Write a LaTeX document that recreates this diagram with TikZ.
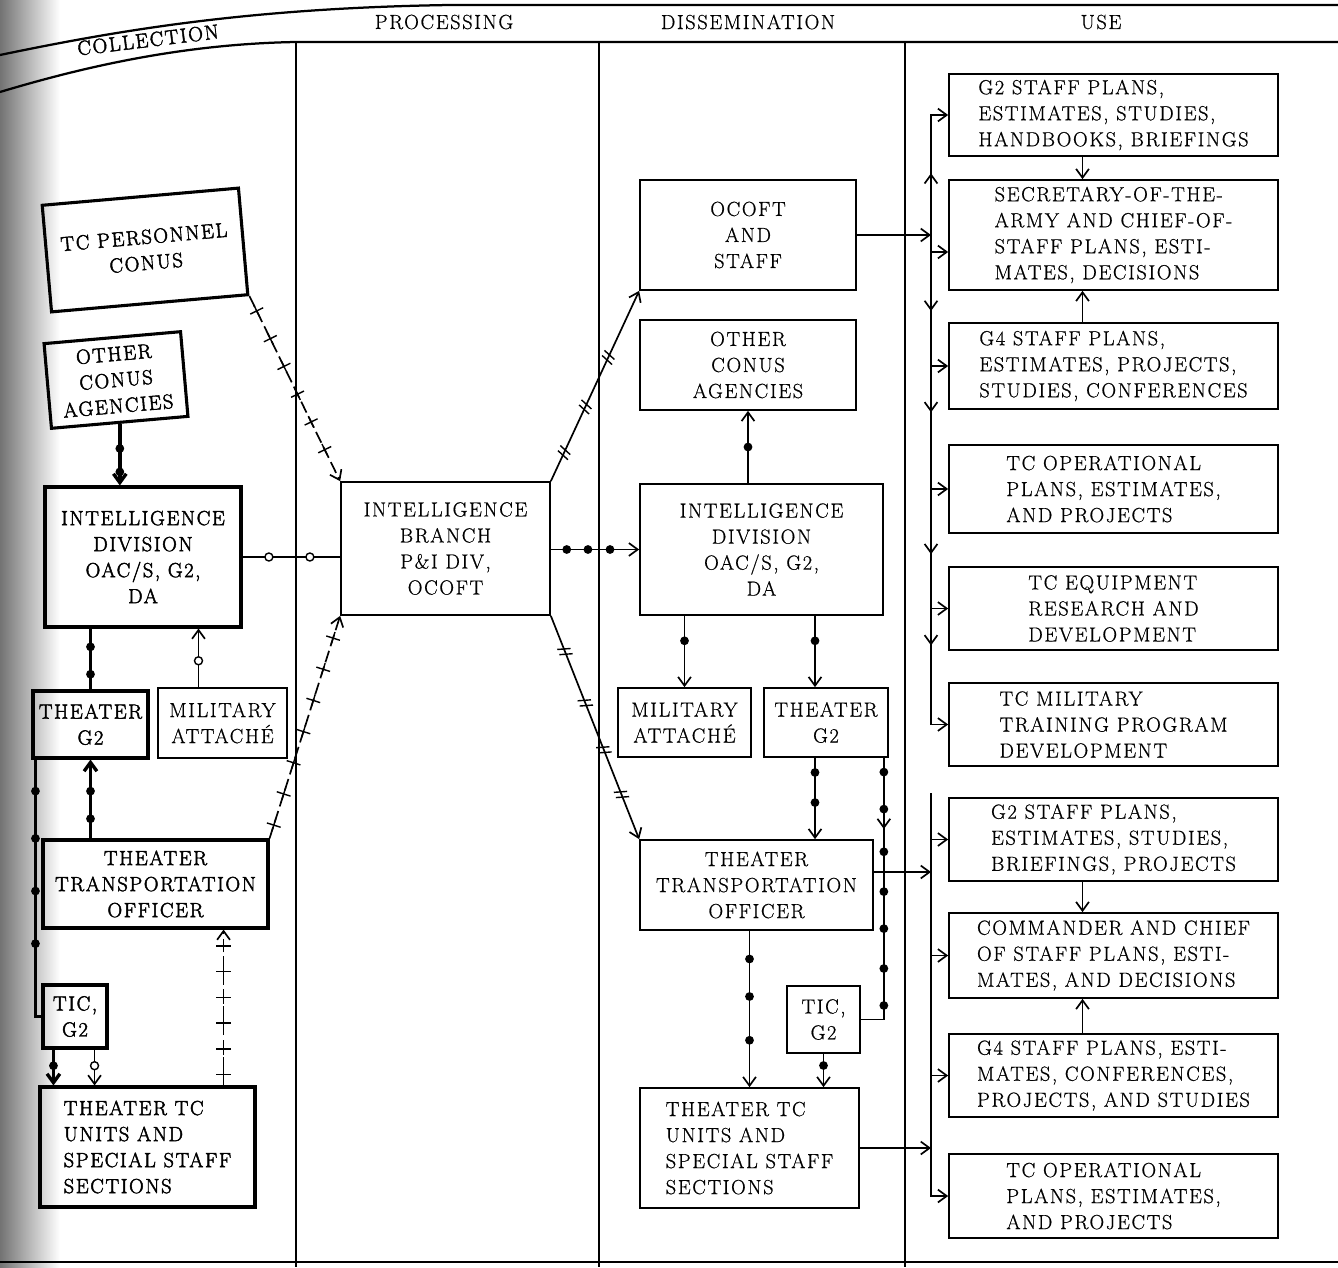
\documentclass[tikz,border=0pt]{standalone}
\usepackage{fontspec}
\setmainfont{Latin Modern Roman}
\usetikzlibrary{arrows.meta,decorations.markings,calc}

\newfontfamily\boxfam{Latin Modern Roman}[LetterSpace=8, FakeBold=0.6]
\newfontfamily\heavyfam{Latin Modern Roman}[LetterSpace=8, FakeBold=2.2]
\newcommand{\boxfont}{\boxfam\fontsize{14.5}{18.5}\selectfont}
\newcommand{\heavyfont}{\heavyfam\fontsize{14.5}{18.5}\selectfont}

\tikzset{
  >={Straight Barb[length=0.22cm,width=0.32cm]},
  blk/.style={draw, line width=1.2pt, inner sep=2pt, align=center, font=\boxfont},
  blkl/.style={blk, align=left},
  cbox/.style={blk, line width=2.2pt, font=\heavyfont},
  cboxl/.style={cbox, align=left},
  sz/.style 2 args={minimum width=#1*0.025cm, minimum height=#2*0.025cm},
  link/.style={line width=1.2pt},
  boldlink/.style={line width=2.4pt},
  fdot/.style={postaction={decorate,decoration={markings,
      mark=at position #1 with {\fill (0,0) circle (0.11cm);}}}},
  odot/.style={postaction={decorate,decoration={markings,
      mark=at position #1 with {\draw[-,solid,fill=white,line width=1pt] (0,0) circle (0.1cm);}}}},
  midtip/.style={postaction={decorate,decoration={markings,
      mark=at position #1 with {\arrow{>}}}}},
  crossed/.style={dash pattern=on 0.3cm off 0.12cm, postaction={decorate,decoration={markings,
      mark=between positions #1 with {\draw[-,solid,line width=1pt] (0,-0.18cm) -- (0,0.18cm) (-0.16cm,0) -- (0.16cm,0);}}}},
  slashed/.style={postaction={decorate,decoration={markings,
      mark=at position #1 with {\draw[-,solid,line width=1pt] (-0.12cm,-0.16cm) -- (-0.02cm,0.16cm) (0.02cm,-0.16cm) -- (0.12cm,0.16cm);}}}},
}

\begin{document}
\begin{tikzpicture}[x=0.025cm, y=-0.025cm]
  \useasboundingbox (0,0) rectangle (1338,1267);
  \shade[left color=black!55, right color=white] (0,0) rectangle (60,1267);

  % header band and columns
  \draw[line width=1.6pt] (0,55) .. controls (120,30) and (250,8) .. (450,5) -- (1338,5);
  \draw[line width=1.6pt] (0,92) .. controls (80,68) and (180,44) .. (296,42) -- (1338,42);
  \draw[line width=1.6pt] (0,1262) -- (1338,1262);
  \draw[link] (296,42) -- (296,1267);
  \draw[link] (599,42) -- (599,1267);
  \draw[link] (905,42) -- (905,1267);
  \node[font=\heavyfont, rotate=7] (coll) at (148,40) {COLLECTION};
  \node[font=\boxfont] (proc) at (444,22) {PROCESSING};
  \node[font=\boxfont] (diss) at (748,22) {DISSEMINATION};
  \node[font=\boxfont] (use) at (1101,22) {USE};

  % collection
  \node[cbox, sz={197}{107}, rotate=5] (tcp) at (145,250) {TC PERSONNEL\\CONUS};
  \node[cbox, sz={137}{85}, rotate=5] (oca) at (116,380) {OTHER\\CONUS\\AGENCIES};
  \node[cbox, sz={196}{140}] (idl) at (143,557) {INTELLIGENCE\\DIVISION\\OAC/S, G2,\\DA};
  \node[cbox, sz={115}{67}] (tg2l) at (90.5,724.5) {THEATER\\G2};
  \node[blk, sz={129}{70}] (mal) at (222.5,723) {MILITARY\\ATTACHÉ};
  \node[cbox, sz={225}{88}] (ttol) at (155.5,884) {THEATER\\TRANSPORTATION\\OFFICER};
  \node[cbox, sz={64}{63}] (ticl) at (75,1016.5) {TIC,\\G2};
  \node[cboxl, sz={215}{120}] (ttul) at (147.5,1147) {THEATER TC\\UNITS AND\\SPECIAL STAFF\\SECTIONS};

  % processing
  \node[blk, sz={209}{133}] (ib) at (445.5,548.5) {INTELLIGENCE\\BRANCH\\P\&I DIV,\\OCOFT};

  % dissemination
  \node[blk, sz={216}{110}] (ocoft) at (748,235) {OCOFT\\AND\\STAFF};
  \node[blk, sz={216}{90}] (ocad) at (748,365) {OTHER\\CONUS\\AGENCIES};
  \node[blk, sz={243}{131}] (idd) at (761.5,549.5) {INTELLIGENCE\\DIVISION\\OAC/S, G2,\\DA};
  \node[blk, sz={133}{69}] (mad) at (684.5,722.5) {MILITARY\\ATTACHÉ};
  \node[blk, sz={124}{69}] (tg2d) at (826,722.5) {THEATER\\G2};
  \node[blk, sz={233}{90}] (ttod) at (756.5,885) {THEATER\\TRANSPORTATION\\OFFICER};
  \node[blk, sz={73}{67}] (ticd) at (823.5,1019.5) {TIC,\\G2};
  \node[blkl, sz={219}{120}] (ttud) at (749.5,1148) {THEATER TC\\UNITS AND\\SPECIAL STAFF\\SECTIONS};

  % use
  \node[blkl, sz={329}{82}] (u1) at (1113.5,115) {G2 STAFF PLANS,\\ESTIMATES, STUDIES,\\HANDBOOKS, BRIEFINGS};
  \node[blkl, sz={329}{110}] (u2) at (1113.5,235) {SECRETARY-OF-THE-\\ARMY AND CHIEF-OF-\\STAFF PLANS, ESTI-\\MATES, DECISIONS};
  \node[blkl, sz={329}{86}] (u3) at (1113.5,366) {G4 STAFF PLANS,\\ESTIMATES, PROJECTS,\\STUDIES, CONFERENCES};
  \node[blkl, sz={329}{88}] (u4) at (1113.5,489) {TC OPERATIONAL\\PLANS, ESTIMATES,\\AND PROJECTS};
  \node[blkl, sz={329}{83}] (u5) at (1113.5,608.5) {TC EQUIPMENT\\RESEARCH AND\\DEVELOPMENT};
  \node[blkl, sz={329}{83}] (u6) at (1113.5,724.5) {TC MILITARY\\TRAINING PROGRAM\\DEVELOPMENT};
  \node[blkl, sz={329}{83}] (u7) at (1113.5,839.5) {G2 STAFF PLANS,\\ESTIMATES, STUDIES,\\BRIEFINGS, PROJECTS};
  \node[blkl, sz={329}{85}] (u8) at (1113.5,955.5) {COMMANDER AND CHIEF\\OF STAFF PLANS, ESTI-\\MATES, AND DECISIONS};
  \node[blkl, sz={329}{83}] (u9) at (1113.5,1075.5) {G4 STAFF PLANS, ESTI-\\MATES, CONFERENCES,\\PROJECTS, AND STUDIES};
  \node[blkl, sz={329}{84}] (u10) at (1113.5,1196) {TC OPERATIONAL\\PLANS, ESTIMATES,\\AND PROJECTS};

  % collection links
  \draw[boldlink, ->, fdot=0.4, fdot=0.78] (oca.south) -- (oca.south |- idl.north);
  \draw[boldlink, fdot=0.3, fdot=0.75] (tg2l.north |- idl.south) -- (tg2l.north);
  \draw[boldlink, <-, fdot=0.4, fdot=0.75] (tg2l.south) -- (tg2l.south |- ttol.north);
  \coordinate (maup) at ($(mal.north)+(-24,0)$);
  \draw[link, ->, odot=0.45] (maup) -- (maup |- idl.south);
  \draw[boldlink, fdot=0.12, fdot=0.3, fdot=0.5, fdot=0.7] ($(tg2l.south west)+(4,0)$) |- (ticl.west);
  \coordinate (tcA) at ($(ticl.south west)+(12,0)$);
  \coordinate (tcB) at ($(ticl.south east)+(-14,0)$);
  \draw[boldlink, ->, fdot=0.45] (tcA) -- (tcA |- ttul.north);
  \draw[link, ->, odot=0.45] (tcB) -- (tcB |- ttul.north);
  \coordinate (ttA) at ($(ttul.north east)+(-33,0)$);
  \draw[link, ->, crossed=0.07 and 0.9 step 0.165] (ttA) -- (ttA |- ttol.south);

  % to processing
  \draw[link, ->, crossed=0.08 and 0.85 step 0.15] (tcp.south east) -- (ib.north west);
  \draw[link, ->, crossed=0.06 and 0.92 step 0.14] (ttol.north east) -- (ib.south west);
  \draw[link, odot=0.27, odot=0.69] (idl.east) -- (idl.east -| ib.west);

  % to dissemination
  \draw[link, ->, fdot=0.18, fdot=0.42, fdot=0.67] (ib.east |- idd.west) -- (idd.west);
  \draw[link, ->, slashed=0.15, slashed=0.39, slashed=0.65] (ib.north east) -- (ocoft.south west);
  \draw[link, ->, slashed=0.16, slashed=0.39, slashed=0.6, slashed=0.8] (ib.south east) -- (ttod.north west);
  \draw[link, ->, fdot=0.5] (ocad.south |- idd.north) -- (ocad.south);
  \draw[link, ->, fdot=0.35] (mad.north |- idd.south) -- (mad.north);
  \coordinate (tgA) at ($(tg2d.north)+(-11,0)$);
  \coordinate (tgB) at ($(tg2d.south)+(-11,0)$);
  \draw[link, ->, fdot=0.35] (tgA |- idd.south) -- (tgA);
  \draw[link, ->, fdot=0.18, fdot=0.55] (tgB) -- (tgB |- ttod.north);
  \draw[link, midtip=0.25, fdot=0.05, fdot=0.18, fdot=0.33, fdot=0.47, fdot=0.6, fdot=0.74, fdot=0.87]
    ($(tg2d.south east)+(-5,0)$) |- (ticd.east);
  \draw[link, ->, fdot=0.18, fdot=0.42, fdot=0.7] (ttud.north |- ttod.south) -- (ttud.north);
  \draw[link, ->, fdot=0.35] (ticd.south) -- (ticd.south |- ttud.north);

  % use, upper bus
  \coordinate (ubus) at (931,235);
  \draw[link, ->] (ocoft.east) -- (ubus);
  \draw[link, ->, midtip=0.45] (ubus) |- (u1.west);
  \coordinate (u2in) at ($(u2.west)+(0,17)$);
  \draw[link, ->] (ubus |- u2in) -- (u2in);
  \draw[link, ->, midtip=0.15, midtip=0.35, midtip=0.63, midtip=0.81] (ubus) |- (u6.west);
  \foreach \n in {u3,u4,u5}
    \draw[link, ->] (ubus |- \n.west) -- (\n.west);
  \coordinate (ua) at ($(u1.south)+(-31,0)$);
  \coordinate (ub) at ($(u3.north)+(-31,0)$);
  \draw[link, ->] (ua) -- (ua |- u2.north);
  \draw[link, ->] (ub) -- (ub |- u2.south);

  % use, lower bus
  \coordinate (lbus) at (931,793);
  \draw[link, ->] (lbus) |- (u10.west);
  \foreach \n in {u7,u8,u9}
    \draw[link, ->] (lbus |- \n.west) -- (\n.west);
  \coordinate (ttoout) at ($(ttod.east)+(0,-13)$);
  \draw[link, ->] (ttoout) -- (ttoout -| lbus);
  \draw[link, ->] (ttud.east) -- (ttud.east -| lbus);
  \coordinate (uc) at ($(u7.south)+(-31,0)$);
  \coordinate (ud) at ($(u9.north)+(-31,0)$);
  \draw[link, ->] (uc) -- (uc |- u8.north);
  \draw[link, ->] (ud) -- (ud |- u8.south);
\end{tikzpicture}
\end{document}
